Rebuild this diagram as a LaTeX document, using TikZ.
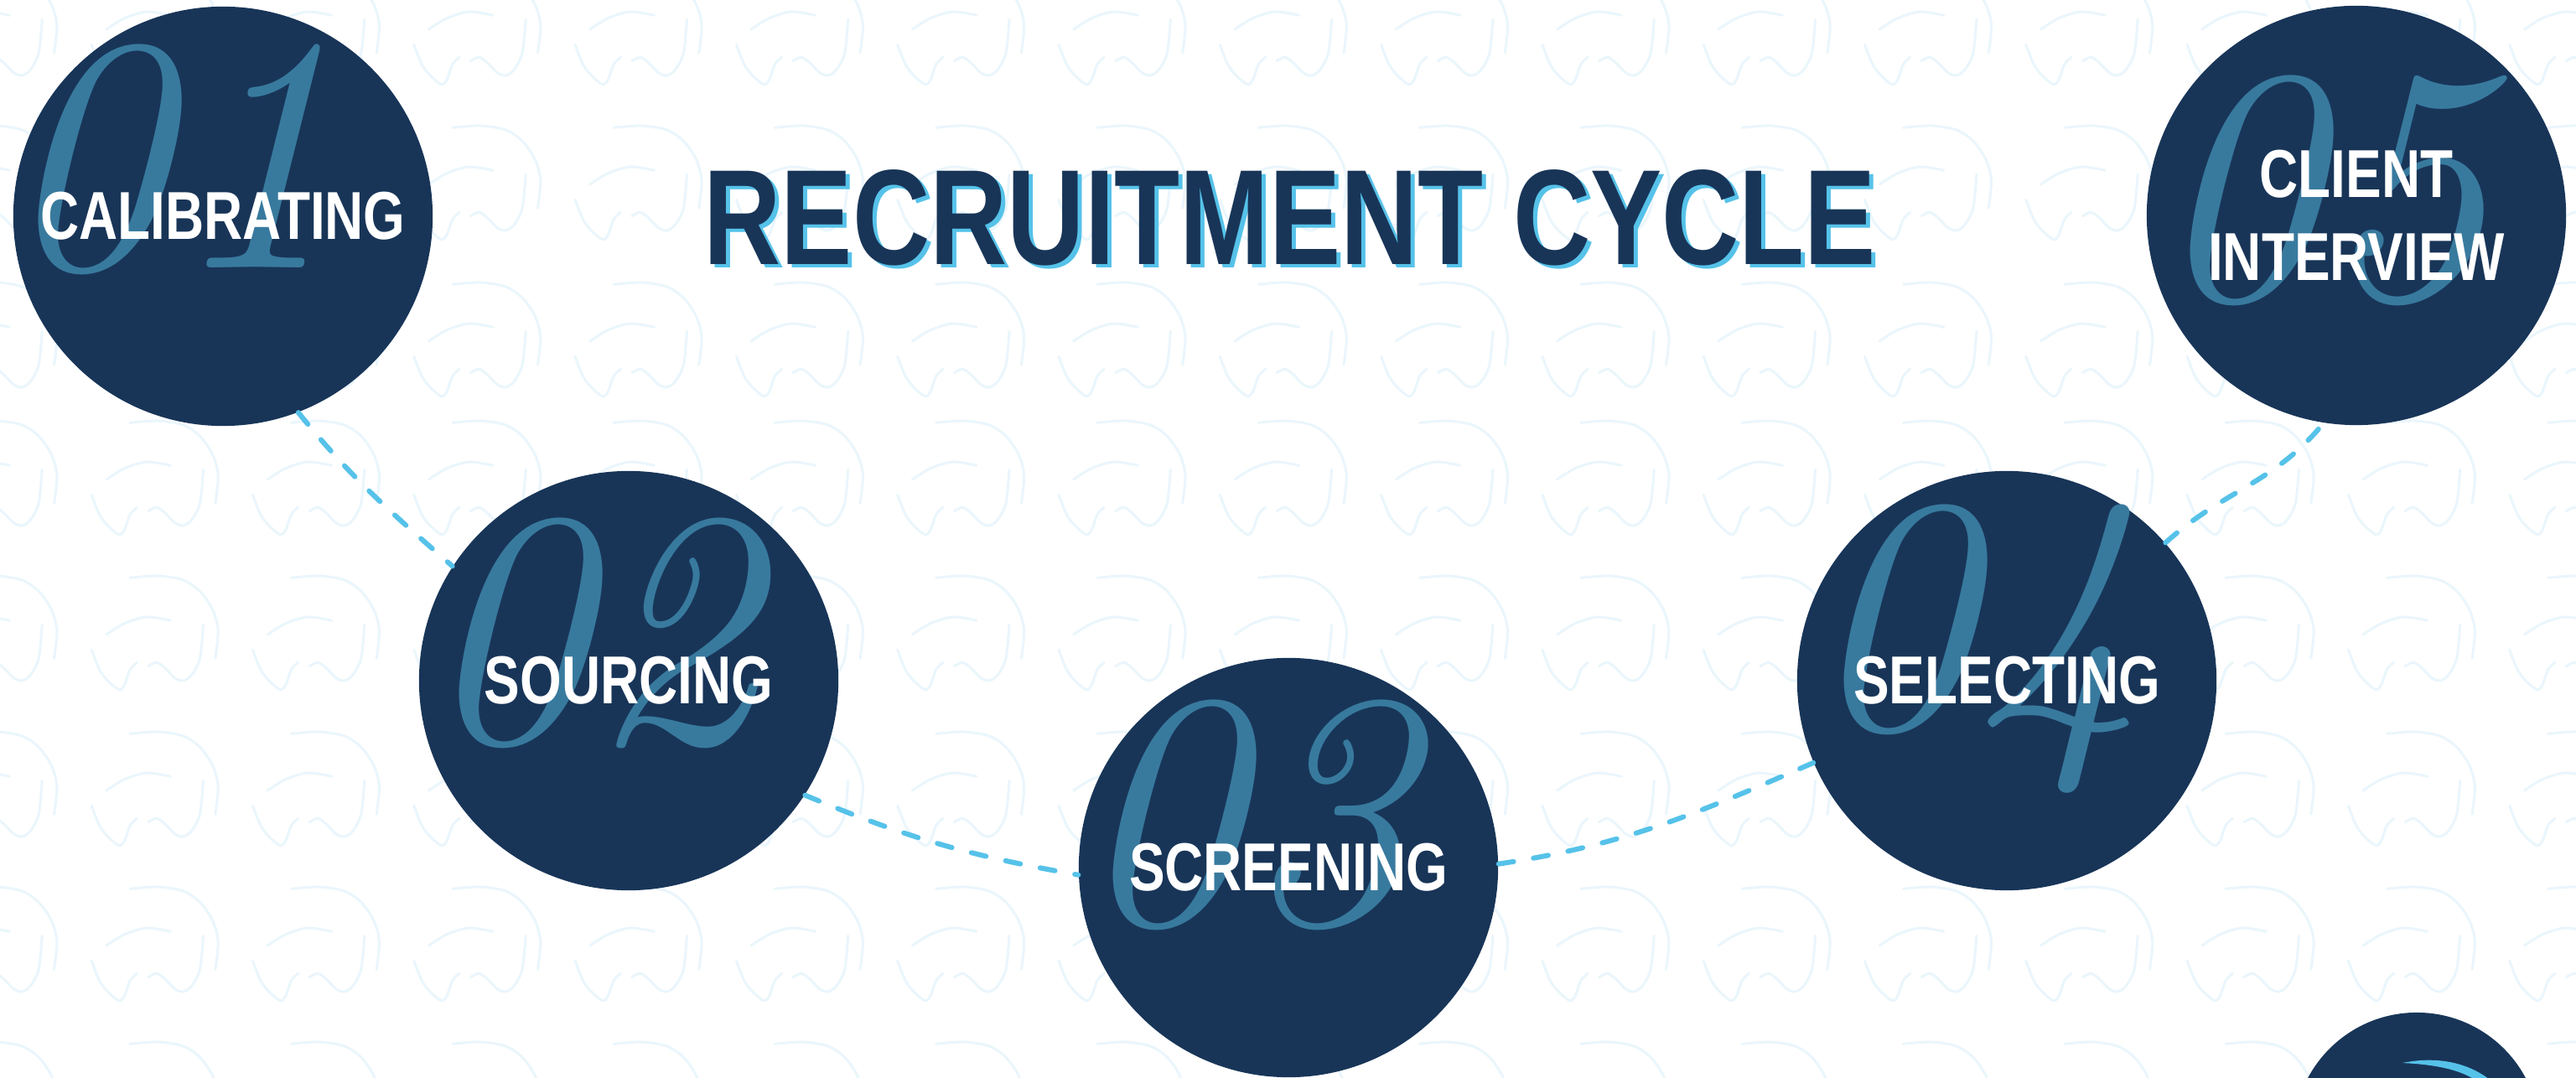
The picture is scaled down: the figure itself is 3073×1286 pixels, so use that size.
\documentclass[tikz,border=0pt]{standalone}
\usepackage{fontspec}
\newfontfamily\condfont[FakeStretch=0.79]{Liberation Sans}
\definecolor{navy}{RGB}{24,53,88}
\definecolor{numblue}{RGB}{56,122,158}
\definecolor{dashblue}{RGB}{86,194,233}
\definecolor{patblue}{RGB}{234,246,252}
\tikzset{
  stepcircle/.style={circle, fill=navy, minimum size=5cm, inner sep=0pt},
  numtext/.style={text=numblue, font=\fontsize{114}{114}\selectfont\itshape, inner sep=0pt},
  labeltext/.style={text=white, font=\condfont\bfseries\fontsize{23}{28.2}\selectfont, align=center, inner sep=0pt},
  titletext/.style={font=\condfont\bfseries\fontsize{46}{50}\selectfont, inner sep=0pt},
  cyclelink/.style={draw=dashblue, line width=0.06cm, line cap=round, dash pattern=on 0.18cm off 0.24cm},
  patline/.style={draw=patblue, line width=0.03cm, line cap=round}
}
\begin{document}
\begin{tikzpicture}[x=0.01cm, y=0.01cm]
\useasboundingbox (0,0) rectangle (3073,-1286);
\clip (0,0) rectangle (3073,-1286);
\fill[white] (0,0) rectangle (3073,-1286);
% background pattern
\begin{scope}[yscale=-1]
\foreach \oy in {-35,150,337,502,687,873,1058,1243}{
  \foreach \k in {-6,...,10}{
    \begin{scope}[shift={({1070.7+192.3*\k},\oy)}]
      \draw[patline] plot[smooth] coordinates {(46,2.3) (79.3,0) (109.3,5) (129.3,18.3) (144.3,40) (151,65) (147.7,98.3)};
      \draw[patline] plot[smooth] coordinates {(17.7,70) (39.3,56.7) (66,49) (94.3,53.3)};
      \draw[patline] plot[smooth] coordinates {(0,88.3) (9.3,111.7) (19.3,125) (32.7,135.7) (39.3,130) (46,111.7) (54.3,103.3)};
      \draw[patline] plot[smooth] coordinates {(67.7,107.7) (77.7,103.3) (87.7,110) (99.3,121.7) (109.3,125) (119.3,118.3) (129.3,98.3) (133.3,58.3)};
    \end{scope}
  }
}
\end{scope}
% title
\node[titletext, text=dashblue] (tshadow) at (1544,-264) {RECRUITMENT CYCLE};
\node[titletext, text=navy] (title) at (1539,-260) {RECRUITMENT CYCLE};
% circles
\node[stepcircle] (c1) at (266,-258) {};
\node[stepcircle] (c2) at (750,-812) {};
\node[stepcircle] (c3) at (1537,-1035) {};
\node[stepcircle] (c4) at (2394,-812) {};
\node[stepcircle] (c5) at (2811,-257) {};
\node[circle, fill=navy, minimum size=2.94cm, inner sep=0pt] (c6) at (2883,-1355) {};
\fill[dashblue] (2866,-1268) .. controls (2905,-1260) and (2945,-1266) .. (2975,-1292) -- (2960,-1294) .. controls (2940,-1276) and (2905,-1270) .. (2866,-1268) -- cycle;
% numerals
\node[numtext] (n1) at ([shift={(-66,68)}]c1) {01};
\node[numtext] (n2) at ([shift={(-48,57)}]c2) {02};
\node[numtext] (n3) at ([shift={(-55,63)}]c3) {03};
\node[numtext] (n4) at ([shift={(-40,38)}]c4) {04};
\node[numtext] (n5) at ([shift={(-44,30)}]c5) {05};
% labels
\node[labeltext] (l1) at (c1) {CALIBRATING};
\node[labeltext] (l2) at (c2) {SOURCING};
\node[labeltext] (l3) at (c3) {SCREENING};
\node[labeltext] (l4) at (c4) {SELECTING};
\node[labeltext] (l5) at (c5) {CLIENT\\INTERVIEW};
% connectors
\draw[cyclelink] (c1.291) to[out=-51, in=138.8] (c2.147.5);
\draw[cyclelink] (c2.327) to[out=-22.7, in=170] (c3.182.8);
\draw[cyclelink] (c3.1) to[out=8.6, in=203.5] (c4.203.5);
\draw[cyclelink] (c4.41.1) to[out=42.2, in=230.9] (c5.261.3);
\end{tikzpicture}
\end{document}
